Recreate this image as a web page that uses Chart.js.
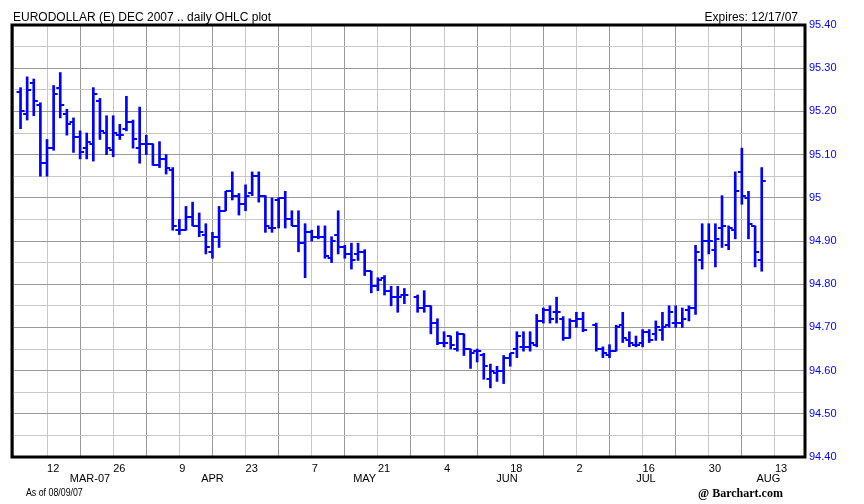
<!DOCTYPE html>
<html>
<head>
<meta charset="utf-8">
<script src="https://cdn.jsdelivr.net/npm/chart.js@4.4.1/dist/chart.umd.min.js"></script>
<style>
  body { margin: 0; background: #fff; }
  #wrap { position: relative; width: 864px; height: 504px; font-family: 'Liberation Sans', Arial, sans-serif; }
  #ohlcChart { position: absolute; left: 0; top: 0; }
  .txt { position: absolute; font-size: 12px; line-height: 14px; color: #000; white-space: nowrap; }
</style>
</head>
<body>
<div id="wrap">
  <canvas id="ohlcChart" width="864" height="504"></canvas>
  <div class="txt" style="left:13px; top:10px;">EURODOLLAR (E) DEC 2007 .. daily OHLC plot</div>
  <div class="txt" style="right:66px; top:10px;">Expires: 12/17/07</div>
  <div class="txt" style="left:26px; top:486px; font-size:11px; line-height:13px; transform:scaleX(0.8); transform-origin:0 0;">As of 08/09/07</div>
  <div class="txt" style="left:698px; top:486px; font-family:'Liberation Serif',serif; font-weight:bold;">@ Barchart.com</div>
</div>
<script>
// trading days (2007, MM-DD), one line per month
const dates = [
  '03-06','03-07','03-08','03-09','03-12','03-13','03-14','03-15','03-16','03-19','03-20','03-21','03-22','03-23','03-26','03-27','03-28','03-29','03-30',
  '04-02','04-03','04-04','04-05','04-06','04-09','04-10','04-11','04-12','04-13','04-16','04-17','04-18','04-19','04-20','04-23','04-24','04-25','04-26','04-27','04-30',
  '05-01','05-02','05-03','05-04','05-07','05-08','05-09','05-10','05-11','05-14','05-15','05-16','05-17','05-18','05-21','05-22','05-23','05-24','05-25','05-29','05-30','05-31',
  '06-01','06-04','06-05','06-06','06-07','06-08','06-11','06-12','06-13','06-14','06-15','06-18','06-19','06-20','06-21','06-22','06-25','06-26','06-27','06-28','06-29',
  '07-02','07-03','07-05','07-06','07-09','07-10','07-11','07-12','07-13','07-16','07-17','07-18','07-19','07-20','07-23','07-24','07-25','07-26','07-27','07-30','07-31',
  '08-01','08-02','08-03','08-06','08-07','08-08','08-09'
];

const opens = [
  95.245, 95.195, 95.265, 95.215, 95.080, 95.115, 95.255, 95.195, 95.175, 95.140, 95.115, 95.125, 95.225, 95.150, 95.110, 95.145, 95.160, 95.175, 95.115,
  95.125, 95.125, 95.075, 95.090, 95.065, 94.925, 94.925, 94.955, 94.935, 94.915, 94.875, 94.910, 94.970, 95.015, 95.005, 94.985, 95.010, 95.050, 95.005, 94.930, 94.995,
  95.000, 94.950, 94.935, 94.895, 94.920, 94.910, 94.910, 94.860, 94.915, 94.885, 94.870, 94.870, 94.875, 94.830, 94.795, 94.815, 94.785, 94.770, 94.775, 94.770, 94.745, 94.750,
  94.710, 94.665, 94.680, 94.650, 94.685, 94.650, 94.645, 94.635, 94.580, 94.595, 94.600, 94.630, 94.650, 94.655, 94.655, 94.660, 94.715, 94.740, 94.735, 94.720, 94.675,
  94.715, 94.720, 94.705, 94.650, 94.635, 94.645, 94.705, 94.670, 94.660, 94.665, 94.690, 94.685, 94.695, 94.705, 94.710, 94.710, 94.740, 94.745, 94.855, 94.900, 94.880,
  94.930, 94.890, 94.925, 95.060, 95.000, 94.935, 94.855
];
const highs = [
  95.255, 95.280, 95.275, 95.220, 95.135, 95.260, 95.290, 95.205, 95.185, 95.155, 95.150, 95.255, 95.230, 95.190, 95.190, 95.170, 95.235, 95.180, 95.210,
  95.145, 95.125, 95.130, 95.100, 95.070, 94.950, 94.980, 94.990, 94.965, 94.940, 94.920, 94.980, 95.015, 95.060, 95.010, 95.030, 95.060, 95.060, 95.005, 95.000, 95.000,
  95.015, 94.970, 94.970, 94.940, 94.925, 94.935, 94.935, 94.910, 94.970, 94.890, 94.895, 94.895, 94.880, 94.830, 94.815, 94.820, 94.795, 94.795, 94.790, 94.775, 94.785, 94.750,
  94.720, 94.690, 94.680, 94.690, 94.685, 94.650, 94.650, 94.640, 94.615, 94.610, 94.635, 94.640, 94.690, 94.690, 94.690, 94.730, 94.745, 94.750, 94.770, 94.725, 94.720,
  94.735, 94.735, 94.710, 94.655, 94.660, 94.705, 94.735, 94.690, 94.680, 94.695, 94.695, 94.715, 94.735, 94.750, 94.750, 94.745, 94.750, 94.890, 94.940, 94.940, 94.940,
  95.005, 94.935, 95.060, 95.115, 95.015, 94.935, 95.070
];
const lows = [
  95.160, 95.180, 95.190, 95.050, 95.050, 95.110, 95.185, 95.145, 95.105, 95.090, 95.090, 95.085, 95.135, 95.100, 95.095, 95.135, 95.155, 95.115, 95.080,
  95.100, 95.075, 95.070, 95.055, 94.925, 94.915, 94.925, 94.935, 94.910, 94.870, 94.860, 94.885, 94.970, 94.995, 94.960, 94.970, 95.005, 94.990, 94.920, 94.920, 94.930,
  94.930, 94.935, 94.875, 94.815, 94.900, 94.905, 94.860, 94.850, 94.870, 94.860, 94.835, 94.855, 94.820, 94.780, 94.785, 94.775, 94.750, 94.735, 94.755, 94.735, 94.735, 94.685,
  94.660, 94.655, 94.650, 94.645, 94.635, 94.605, 94.620, 94.580, 94.560, 94.575, 94.570, 94.610, 94.630, 94.645, 94.645, 94.655, 94.710, 94.710, 94.710, 94.670, 94.675,
  94.700, 94.690, 94.645, 94.630, 94.630, 94.645, 94.665, 94.655, 94.655, 94.655, 94.665, 94.670, 94.670, 94.700, 94.700, 94.700, 94.715, 94.730, 94.835, 94.870, 94.840,
  94.885, 94.880, 94.905, 94.985, 94.905, 94.840, 94.830
];
const closes = [
  95.200, 95.250, 95.225, 95.080, 95.115, 95.240, 95.215, 95.170, 95.140, 95.105, 95.130, 95.240, 95.155, 95.115, 95.150, 95.145, 95.175, 95.135, 95.125,
  95.125, 95.075, 95.090, 95.070, 94.935, 94.925, 94.955, 94.935, 94.920, 94.885, 94.910, 94.970, 95.015, 95.005, 94.985, 95.005, 95.050, 95.005, 94.935, 94.930, 95.000,
  94.950, 94.935, 94.895, 94.920, 94.910, 94.910, 94.865, 94.900, 94.885, 94.870, 94.855, 94.875, 94.830, 94.795, 94.810, 94.785, 94.770, 94.770, 94.775, 94.745, 94.750, 94.710,
  94.665, 94.665, 94.660, 94.685, 94.650, 94.640, 94.645, 94.610, 94.600, 94.600, 94.630, 94.640, 94.680, 94.655, 94.665, 94.715, 94.740, 94.720, 94.735, 94.675, 94.715,
  94.720, 94.695, 94.650, 94.640, 94.645, 94.700, 94.675, 94.665, 94.660, 94.690, 94.670, 94.700, 94.700, 94.735, 94.710, 94.720, 94.745, 94.875, 94.900, 94.900, 94.905,
  94.935, 94.930, 95.015, 95.005, 94.940, 94.875, 95.040
];

// axis labels
const dayTickLabels = ['12', '26', '9', '23', '7', '21', '4', '18', '2', '16', '30', '13'];
const monthLabels = ['MAR-07', 'APR', 'MAY', 'JUN', 'JUL', 'AUG'];
const monthTickAt = [6.5, 25, 48, 69.5, 90.5, 109];

// x position = weekdays counted from Mon 12 Mar 2007 (holidays leave a gap)
function weekdayIndex(md) {
  const [m, d] = md.split('-').map(Number);
  const days = Math.round((Date.UTC(2007, m - 1, d) - Date.UTC(2007, 2, 12)) / 86400000);
  const weeks = Math.floor(days / 7);
  return weeks * 5 + Math.min(days - weeks * 7, 5);
}

const xs = dates.map(weekdayIndex);
const BLUE = '#0000ff';

// little tick images: open on the left, close on the right
function tickImage(side) {
  const c = document.createElement('canvas');
  c.width = 10;
  c.height = 2;
  const g = c.getContext('2d');
  g.fillStyle = BLUE;
  g.fillRect(side === 'left' ? 1 : 5, 0, 4, 2);
  return c;
}

// frame round the plot area
const framePlugin = {
  id: 'frame',
  afterDraw(chart) {
    const a = chart.chartArea;
    const ctx = chart.ctx;
    ctx.save();
    ctx.strokeStyle = '#000';
    ctx.lineWidth = 3;
    ctx.strokeRect(a.left, a.top, a.right - a.left, a.bottom - a.top);
    ctx.restore();
  }
};

const tickFont = { family: "'Liberation Sans', Arial, sans-serif", size: 11, lineHeight: 1 };

new Chart(document.getElementById('ohlcChart'), {
  type: 'bar',
  data: {
    datasets: [
      {
        label: 'High-Low',
        data: xs.map((x, i) => ({ x: x, y: [lows[i], highs[i]] })),
        backgroundColor: BLUE,
        borderWidth: 0,
        barThickness: 2,
        grouped: false,
        order: 2
      },
      {
        type: 'scatter',
        label: 'Open',
        data: xs.map((x, i) => ({ x: x, y: opens[i] })),
        pointStyle: tickImage('left'),
        pointRadius: 3,
        order: 1
      },
      {
        type: 'scatter',
        label: 'Close',
        data: xs.map((x, i) => ({ x: x, y: closes[i] })),
        pointStyle: tickImage('right'),
        pointRadius: 3,
        order: 1
      }
    ]
  },
  options: {
    responsive: false,
    animation: false,
    devicePixelRatio: 1,
    layout: { padding: { left: 12, top: 25, right: 0, bottom: 0 } },
    plugins: {
      legend: { display: false },
      tooltip: { enabled: false }
    },
    scales: {
      x: {
        type: 'linear',
        position: 'bottom',
        min: -5.29,
        max: 114.54,
        offset: false,
        weight: 0,
        afterFit: s => { s.height = 16; },
        border: { display: false },
        grid: {
          offset: false,
          drawTicks: false,
          color: c => (c.tick && c.tick.value % 10 === 0) ? '#c8c8c8' : '#999999'
        },
        ticks: {
          stepSize: 5,
          includeBounds: false,
          autoSkip: false,
          maxRotation: 0,
          align: 'start',
          padding: 6,
          color: '#000',
          font: tickFont,
          callback: v => (v % 10 === 0 && v >= 0) ? dayTickLabels[v / 10] : ''
        }
      },
      month: {
        type: 'linear',
        position: 'bottom',
        min: -5.29,
        max: 114.54,
        offset: false,
        weight: 1,
        afterFit: s => { s.height = 31; },
        afterBuildTicks: s => { s.ticks = monthTickAt.map(v => ({ value: v })); },
        border: { display: false },
        grid: { display: false, drawTicks: false },
        ticks: {
          autoSkip: false,
          maxRotation: 0,
          padding: 0,
          color: '#000',
          font: tickFont,
          callback: (v, i) => monthLabels[i]
        }
      },
      y: {
        position: 'right',
        min: 94.40,
        max: 95.40,
        afterFit: s => { s.width = 59; },
        border: { display: false },
        grid: {
          drawTicks: false,
          color: c => (c.tick && Math.round(c.tick.value * 100) % 10 === 0) ? '#999999' : '#c8c8c8'
        },
        ticks: {
          stepSize: 0.05,
          autoSkip: false,
          padding: 4,
          color: BLUE,
          font: { family: "'Liberation Sans', Arial, sans-serif", size: 11 },
          callback: v => {
            const r = Math.round(v * 100);
            if (r % 10 !== 0) return '';
            return r % 100 === 0 ? String(r / 100) : (r / 100).toFixed(2);
          }
        }
      }
    }
  },
  plugins: [framePlugin]
});
</script>
</body>
</html>
